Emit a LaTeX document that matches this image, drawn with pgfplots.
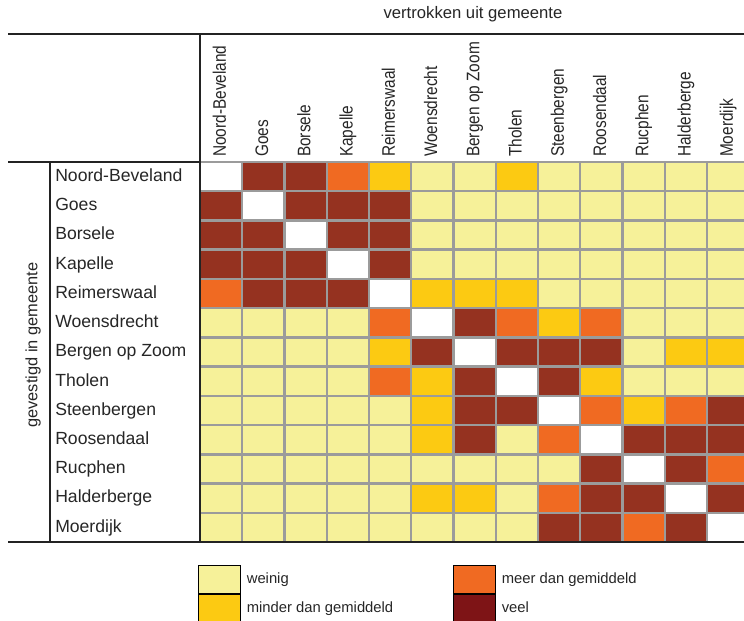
\documentclass[border=0pt]{standalone}
\usepackage{pgfplots}
\pgfplotsset{compat=1.18}
\usepackage{fontspec}
\setmainfont{Liberation Sans}
\definecolor{cWeinig}{RGB}{246,241,153}
\definecolor{cMinder}{RGB}{252,202,18}
\definecolor{cMeer}{RGB}{240,106,34}
\definecolor{cVeel}{RGB}{149,50,32}
\definecolor{cVeelL}{RGB}{126,20,22}
\definecolor{cGrid}{RGB}{155,155,155}
\definecolor{cLine}{RGB}{35,35,35}
\begin{document}
\begin{tikzpicture}
\begin{axis}[
  at={(150pt,-121.5pt)}, anchor=north west,
  x=31.6875pt, y=21.923pt,
  xmin=-0.5, xmax=12.5, ymin=-0.5, ymax=12.5,
  axis line style={draw=none},
  major tick length=0pt, minor tick length=0pt,
  xtick={0,...,12}, ytick={0,...,12},
  xticklabels={Noord-Beveland,Goes,Borsele,Kapelle,Reimerswaal,Woensdrecht,Bergen op Zoom,Tholen,Steenbergen,Roosendaal,Rucphen,Halderberge,Moerdijk},
  yticklabels={Moerdijk,Halderberge,Rucphen,Roosendaal,Steenbergen,Tholen,Bergen op Zoom,Woensdrecht,Reimerswaal,Kapelle,Borsele,Goes,Noord-Beveland},
  xticklabel pos=upper,
  xticklabel style={rotate=90, anchor=west, font=\fontsize{13.6}{15}\selectfont, xscale=0.85, inner xsep=4.3pt, inner ysep=0pt, text height=0.716em, text depth=0pt, text=black!85},
  yticklabel style={anchor=west, xshift=-108.75pt, font=\fontsize{13.2}{15}\selectfont, inner sep=0pt, text height=0.716em, text depth=0pt, text=black!85},
  minor xtick={-0.5,0.5,...,12.5},
  minor ytick={-0.5,0.5,...,12.5},
  xminorgrids, yminorgrids,
  minor grid style={draw=cGrid, line width=1.8pt},
  axis on top,
  colormap={cat}{rgb255=(255,255,255) rgb255=(246,241,153) rgb255=(252,202,18) rgb255=(240,106,34) rgb255=(149,50,32)},
  colormap access=direct,
  title={vertrokken uit gemeente},
  title style={at={(axis description cs:0.497,1.3553)}, anchor=base, font=\fontsize{12.5}{15}\selectfont, inner sep=0pt, text=black!85},
  ylabel={gevestigd in gemeente},
  ylabel style={at={(axis description cs:-0.304,0.518)}, anchor=center, font=\fontsize{12.3}{14}\selectfont, inner sep=0pt, text=black!85},
  legend columns=2,
  legend cell align=left,
  legend image code/.code={\fill[#1] (0pt,-10.5pt) rectangle (31.5pt,10.5pt);},
  legend style={at={(axis description cs:-0.0036,-0.0605)}, anchor=north west, draw=none, fill=none, inner sep=0pt, row sep=0pt,
    nodes={inner sep=0pt, text depth=0.15em, text=black!85},
    font=\fontsize{11.1}{13}\selectfont,
    /tikz/every odd column/.append style={column sep=4.5pt},
    /tikz/column 2/.append style={column sep=45pt}},
]
\addplot[matrix plot*, mesh/cols=13, point meta=explicit, forget plot]
  table[row sep=\\, meta=c]{
x y c\\
0 0 1\\ 1 0 1\\ 2 0 1\\ 3 0 1\\ 4 0 1\\ 5 0 1\\ 6 0 1\\ 7 0 1\\ 8 0 4\\ 9 0 4\\ 10 0 3\\ 11 0 4\\ 12 0 0\\
0 1 1\\ 1 1 1\\ 2 1 1\\ 3 1 1\\ 4 1 1\\ 5 1 2\\ 6 1 2\\ 7 1 1\\ 8 1 3\\ 9 1 4\\ 10 1 4\\ 11 1 0\\ 12 1 4\\
0 2 1\\ 1 2 1\\ 2 2 1\\ 3 2 1\\ 4 2 1\\ 5 2 1\\ 6 2 1\\ 7 2 1\\ 8 2 1\\ 9 2 4\\ 10 2 0\\ 11 2 4\\ 12 2 3\\
0 3 1\\ 1 3 1\\ 2 3 1\\ 3 3 1\\ 4 3 1\\ 5 3 2\\ 6 3 4\\ 7 3 1\\ 8 3 3\\ 9 3 0\\ 10 3 4\\ 11 3 4\\ 12 3 4\\
0 4 1\\ 1 4 1\\ 2 4 1\\ 3 4 1\\ 4 4 1\\ 5 4 2\\ 6 4 4\\ 7 4 4\\ 8 4 0\\ 9 4 3\\ 10 4 2\\ 11 4 3\\ 12 4 4\\
0 5 1\\ 1 5 1\\ 2 5 1\\ 3 5 1\\ 4 5 3\\ 5 5 2\\ 6 5 4\\ 7 5 0\\ 8 5 4\\ 9 5 2\\ 10 5 1\\ 11 5 1\\ 12 5 1\\
0 6 1\\ 1 6 1\\ 2 6 1\\ 3 6 1\\ 4 6 2\\ 5 6 4\\ 6 6 0\\ 7 6 4\\ 8 6 4\\ 9 6 4\\ 10 6 1\\ 11 6 2\\ 12 6 2\\
0 7 1\\ 1 7 1\\ 2 7 1\\ 3 7 1\\ 4 7 3\\ 5 7 0\\ 6 7 4\\ 7 7 3\\ 8 7 2\\ 9 7 3\\ 10 7 1\\ 11 7 1\\ 12 7 1\\
0 8 3\\ 1 8 4\\ 2 8 4\\ 3 8 4\\ 4 8 0\\ 5 8 2\\ 6 8 2\\ 7 8 2\\ 8 8 1\\ 9 8 1\\ 10 8 1\\ 11 8 1\\ 12 8 1\\
0 9 4\\ 1 9 4\\ 2 9 4\\ 3 9 0\\ 4 9 4\\ 5 9 1\\ 6 9 1\\ 7 9 1\\ 8 9 1\\ 9 9 1\\ 10 9 1\\ 11 9 1\\ 12 9 1\\
0 10 4\\ 1 10 4\\ 2 10 0\\ 3 10 4\\ 4 10 4\\ 5 10 1\\ 6 10 1\\ 7 10 1\\ 8 10 1\\ 9 10 1\\ 10 10 1\\ 11 10 1\\ 12 10 1\\
0 11 4\\ 1 11 0\\ 2 11 4\\ 3 11 4\\ 4 11 4\\ 5 11 1\\ 6 11 1\\ 7 11 1\\ 8 11 1\\ 9 11 1\\ 10 11 1\\ 11 11 1\\ 12 11 1\\
0 12 0\\ 1 12 4\\ 2 12 4\\ 3 12 3\\ 4 12 2\\ 5 12 1\\ 6 12 1\\ 7 12 2\\ 8 12 1\\ 9 12 1\\ 10 12 1\\ 11 12 1\\ 12 12 1\\
};
\addlegendimage{fill=cWeinig}
\addlegendentry{weinig}
\addlegendimage{fill=cMeer}
\addlegendentry{meer dan gemiddeld}
\addlegendimage{fill=cMinder}
\addlegendentry{minder dan gemiddeld}
\addlegendimage{fill=cVeelL}
\addlegendentry{veel}
\end{axis}
\draw[cLine, line width=1.5pt] (6pt,-25.5pt) -- (560pt,-25.5pt);
\draw[cLine, line width=1.5pt] (6pt,-406.5pt) -- (560pt,-406.5pt);
\draw[cLine, line width=0.9pt] (150pt,-25.5pt) -- (150pt,-406.5pt);
\draw[cLine, line width=0.8pt] (6pt,-121.5pt) -- (150pt,-121.5pt);
\draw[cLine, line width=1.6pt] (37.5pt,-121.5pt) -- (37.5pt,-406.5pt);
\pgfresetboundingbox
\useasboundingbox (0pt,0pt) rectangle (558pt,-465.75pt);
\end{tikzpicture}
\end{document}
